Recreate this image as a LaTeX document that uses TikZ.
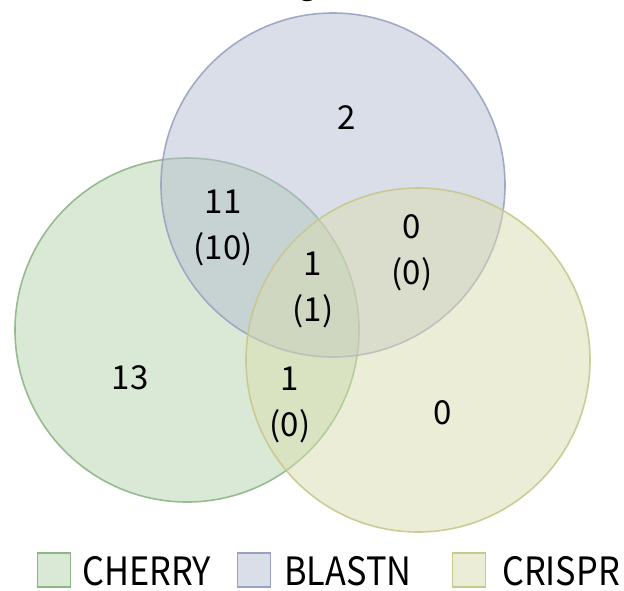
\documentclass[tikz,border=0pt]{standalone}
\usepackage{fontspec}
\setmainfont{Noto Sans CJK SC}
\newfontfamily\legfont[FakeStretch=0.88]{Noto Sans CJK SC}
\definecolor{gfill}{HTML}{B5D3AB}
\definecolor{gline}{HTML}{8DB585}
\definecolor{bfill}{HTML}{B6BDD3}
\definecolor{bline}{HTML}{9AA2C2}
\definecolor{yfill}{HTML}{DADBAF}
\definecolor{yline}{HTML}{C6C88C}
\tikzset{
  setc/.style={circle, minimum size=344pt, line width=1.6pt, fill opacity=0.5, draw opacity=0.9, inner sep=0pt},
  num/.style={font=\fontsize{33}{46}\selectfont, align=center, inner sep=0pt},
  legbox/.style={minimum width=33pt, minimum height=34pt, line width=1.6pt, inner sep=0pt},
  legtext/.style={font=\legfont\fontsize{39}{39}\selectfont, anchor=base west, inner sep=0pt}
}
\begin{document}
\begin{tikzpicture}[x=1pt,y=-1pt]
\useasboundingbox (0,0) rectangle (624,590);
\node[font=\fontsize{33}{40}\selectfont, anchor=base, inner sep=0pt] (title) at (308,-7) {g};
\node[setc, fill=gfill, draw=gline] (cherry) at (187,330) {};
\node[setc, fill=bfill, draw=bline] (blastn) at (333,185) {};
\node[setc, fill=yfill, draw=yline] (crispr) at (418,360) {};
\node[num] (b) at (347,118) {2};
\node[num] (gb) at (223,228) {11\\(10)};
\node[num] (gby) at (313,290) {1\\(1)};
\node[num] (by) at (412,253) {0\\(0)};
\node[num] (g) at (130,378) {13};
\node[num] (gy) at (290,405) {1\\(0)};
\node[num] (y) at (443,413) {0};
\node[legbox, fill=gfill!50, draw=gline] (lg) at (54,570) {};
\node[legtext] (tg) at (82,585) {CHERRY};
\node[legbox, fill=bfill!50, draw=bline] (lb) at (254,570) {};
\node[legtext] (tb) at (284,585) {BLASTN};
\node[legbox, fill=yfill!50, draw=yline] (ly) at (469,570) {};
\node[legtext] (ty) at (502,585) {CRISPR};
\end{tikzpicture}
\end{document}
